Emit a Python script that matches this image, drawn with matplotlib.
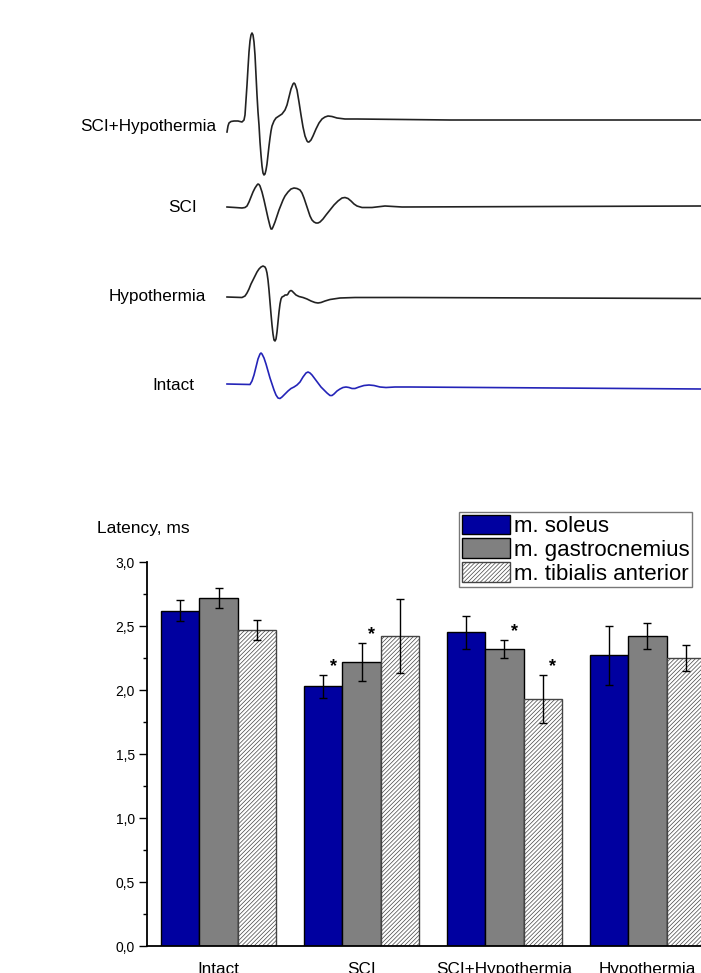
import numpy as np
import matplotlib.pyplot as plt
from matplotlib.ticker import MultipleLocator, FuncFormatter

plt.rcParams['font.family'] = ['Liberation Sans', 'DejaVu Sans']
plt.rcParams['hatch.linewidth'] = 0.5

# evoked responses: time (ms), amplitude (mV)
scih_t = [0, .1, .2, .4, .7, 1.1, 1.5, 1.7, 1.8, 1.9,
          2.0, 2.1, 2.2, 2.3, 2.4, 2.5, 2.6, 2.7, 2.8, 2.9, 3.0,
          3.1, 3.2, 3.3, 3.4, 3.5, 3.6, 3.7, 3.8, 3.9, 4.0, 4.1, 4.2, 4.3, 4.4, 4.5,
          4.7, 4.9, 5.2, 5.5, 5.8, 6.0, 6.2, 6.4, 6.6, 6.7, 6.8,
          7.0, 7.2, 7.4, 7.6, 7.8, 8.0, 8.1, 8.2, 8.4, 8.6, 8.9,
          9.2, 9.5, 9.8, 10.1, 10.5, 11.0, 11.8, 13.0, 22.3, 47.5]
scih_a = [-1.2, -0.6, -0.3, -0.15, -0.1, -0.1, -0.2, 0, 0.5, 2.0,
          3.5, 5.2, 6.8, 7.9, 8.5, 8.7, 8.5, 7.8, 6.5, 4.5, 2.5,
          0.8, -0.5, -2.2, -3.5, -4.6, -5.3, -5.5, -5.4, -5.0, -4.4, -3.5, -2.6, -1.8, -1.1, -0.6,
          -0.1, 0.2, 0.4, 0.6, 1.0, 1.5, 2.3, 3.1, 3.6, 3.7, 3.6,
          3.0, 1.8, 0.5, -0.7, -1.6, -2.1, -2.2, -2.2, -2.0, -1.6, -0.9,
          -0.3, 0.1, 0.3, 0.4, 0.35, 0.2, 0.1, 0.1, 0, 0]

sci_t = [0, 0.8, 1.5, 1.8, 2.0, 2.2, 2.4, 2.6, 2.8, 3.0,
         3.1, 3.2, 3.3, 3.5, 3.7, 3.9, 4.1, 4.3, 4.4, 4.5,
         4.6, 4.8, 5.0, 5.2, 5.4, 5.6, 5.8, 6.1, 6.4, 6.7,
         7.0, 7.3, 7.5, 7.7, 7.9, 8.1, 8.3, 8.5, 8.7, 8.9,
         9.1, 9.3, 9.6, 9.9, 10.3, 10.7, 11.1, 11.5, 11.8, 12.1,
         12.4, 12.7, 13.0, 13.5, 14.5, 15.8, 17.5, 47.4]
sci_a = [0, -0.05, -0.1, -0.05, 0.1, 0.5, 1.0, 1.5, 1.9, 2.2,
         2.3, 2.25, 2.1, 1.5, 0.7, -0.2, -1.1, -1.9, -2.2, -2.2,
         -2.0, -1.5, -0.9, -0.3, 0.2, 0.7, 1.1, 1.5, 1.8, 1.9,
         1.85, 1.7, 1.4, 0.9, 0.3, -0.3, -0.9, -1.3, -1.5, -1.6,
         -1.6, -1.5, -1.2, -0.8, -0.3, 0.2, 0.6, 0.9, 0.95, 0.85,
         0.6, 0.3, 0.1, -0.05, -0.05, 0.1, 0, 0.1]

hypo_t = [0, 1.5, 1.8, 2.0, 2.2, 2.4, 2.6, 2.8, 3.0, 3.2,
          3.4, 3.6, 3.8, 3.9, 4.0, 4.1, 4.2, 4.3, 4.4, 4.5,
          4.6, 4.7, 4.8, 4.9, 5.0, 5.1, 5.2, 5.3, 5.4, 5.5,
          5.7, 5.8, 6.0, 6.1, 6.2, 6.3, 6.4, 6.5, 6.7, 6.9,
          7.2, 7.6, 8.0, 8.4, 8.8, 9.1, 9.4, 9.8, 10.3, 11.3,
          12.8, 17.5, 47.4]
hypo_a = [0, -0.05, 0.1, 0.4, 0.8, 1.3, 1.7, 2.1, 2.5, 2.8,
          3.0, 3.1, 3.0, 2.8, 2.4, 1.7, 0.7, -0.5, -1.7, -2.8,
          -3.7, -4.3, -4.4, -4.2, -3.5, -2.5, -1.5, -0.7, -0.2, 0,
          0.1, 0.2, 0.2, 0.3, 0.5, 0.6, 0.65, 0.6, 0.4, 0.2,
          0.05, -0.05, -0.2, -0.4, -0.55, -0.6, -0.55, -0.4, -0.25, -0.1,
          -0.05, -0.05, -0.15]

intact_t = [0, 2.3, 2.5, 2.7, 2.9, 3.1, 3.3, 3.4, 3.5, 3.7,
            3.9, 4.1, 4.3, 4.5, 4.7, 4.9, 5.1, 5.3, 5.5, 5.8,
            6.1, 6.4, 6.7, 7.0, 7.3, 7.6, 7.9, 8.1, 8.3, 8.5,
            8.8, 9.1, 9.4, 9.7, 10.0, 10.3, 10.5, 10.7, 11.0, 11.3,
            11.6, 11.9, 12.2, 12.5, 12.8, 13.2, 13.7, 14.2, 14.7, 15.3,
            15.9, 16.8, 18.3, 47.4]
intact_a = [0, -0.05, 0.3, 0.9, 1.7, 2.5, 3.0, 3.1, 3.0, 2.6,
            2.0, 1.3, 0.6, 0, -0.6, -1.1, -1.4, -1.45, -1.3, -1.0,
            -0.7, -0.45, -0.3, -0.1, 0.2, 0.7, 1.1, 1.2, 1.1, 0.9,
            0.5, 0.1, -0.3, -0.6, -0.9, -1.15, -1.15, -1.0, -0.7, -0.5,
            -0.35, -0.3, -0.35, -0.45, -0.45, -0.3, -0.15, -0.1, -0.15, -0.3,
            -0.35, -0.3, -0.3, -0.5]

# latency bar chart
groups = ['Intact', 'SCI', 'SCI+Hypothermia', 'Hypothermia']
muscles = ['m. soleus', 'm. gastrocnemius', 'm. tibialis anterior']
soleus = [2.62, 2.03, 2.45, 2.27]
soleus_err = [0.08, 0.09, 0.13, 0.23]
gastro = [2.72, 2.22, 2.32, 2.42]
gastro_err = [0.08, 0.15, 0.07, 0.10]
tibialis = [2.47, 2.42, 1.93, 2.25]
tibialis_err = [0.08, 0.29, 0.19, 0.10]
soleus_sig = [False, True, False, False]
gastro_sig = [False, True, True, False]
tibialis_sig = [False, False, True, False]

W, H = 701, 973
fig = plt.figure(figsize=(W / 100, H / 100), dpi=100)

# ---- traces ----
tr = fig.add_axes([0, 0, 1, 1])
tr.set_xlim(-22.7, 47.4)
tr.set_ylim(0, H / 10)
tr.axis('off')
traces = [(scih_t, scih_a, 85.3, '#222222', 'SCI+Hypothermia', 216, 126),
          (sci_t, sci_a, 76.6, '#222222', 'SCI', 197, 208),
          (hypo_t, hypo_a, 67.6, '#222222', 'Hypothermia', 206, 296),
          (intact_t, intact_a, 58.9, '#2424b8', 'Intact', 194, 385)]
for t, a, off, col, name, lx, ly in traces:
    tr.plot(t, np.array(a) + off, color=col, lw=1.2, solid_joinstyle='round')
    fig.text(lx / W, 1 - ly / H, name, ha='right', va='center', fontsize=12.3)

# ---- bars ----
ax = fig.add_axes([147 / W, 27 / H, 572 / W, 384 / H])
x = np.arange(len(groups))
w = 0.266
b1 = ax.bar(x - w, soleus, w, color='#0000a0', edgecolor='black', lw=1, label=muscles[0])
b2 = ax.bar(x, gastro, w, color='#808080', edgecolor='black', lw=1, label=muscles[1])
b3 = ax.bar(x + w, tibialis, w, color='white', edgecolor='#444444', lw=1, hatch='////////',
            label=muscles[2])
for xs, vals, errs, sig in [(x - w, soleus, soleus_err, soleus_sig),
                            (x, gastro, gastro_err, gastro_sig),
                            (x + w, tibialis, tibialis_err, tibialis_sig)]:
    ax.errorbar(xs, vals, yerr=errs, fmt='none', ecolor='black', elinewidth=1,
                capsize=3.2, capthick=1)
    for xi, v, e, s in zip(xs, vals, errs, sig):
        if s:
            ax.annotate('*', (xi, v + e), xytext=(10, 0), textcoords='offset pixels',
                        ha='center', va='bottom', fontsize=13, fontweight='bold')

ax.set_xlim(-0.5, 3.5)
ax.set_ylim(0, 3.0)
ax.spines['top'].set_visible(False)
ax.spines['right'].set_visible(False)
ax.spines['left'].set_linewidth(1.3)
ax.spines['bottom'].set_linewidth(1.3)
ax.yaxis.set_major_locator(MultipleLocator(0.5))
ax.yaxis.set_minor_locator(MultipleLocator(0.25))
ax.yaxis.set_major_formatter(FuncFormatter(lambda v, p: f'{v:.1f}'.replace('.', ',')))
ax.tick_params(axis='y', which='major', length=5.8, width=1, labelsize=10, pad=3)
ax.tick_params(axis='y', which='minor', length=3, width=1)
ax.set_xticks(x)
ax.set_xticklabels(groups)
ax.tick_params(axis='x', length=0, labelsize=12.3, pad=11.5)

fig.text(97 / W, 1 - 529 / H, 'Latency, ms', ha='left', va='center', fontsize=12.5)

leg = ax.legend(handles=[b1, b2, b3], loc='upper left',
                bbox_to_anchor=(459 / W, 1 - 512 / H), bbox_transform=fig.transFigure,
                fontsize=16, frameon=True, fancybox=False, edgecolor='#555555',
                borderpad=0.12, handlelength=2.18, handleheight=0.98, handletextpad=0.18,
                labelspacing=0.06, borderaxespad=0)
leg.get_frame().set_linewidth(1)

fig.savefig('out.png', dpi=100)
